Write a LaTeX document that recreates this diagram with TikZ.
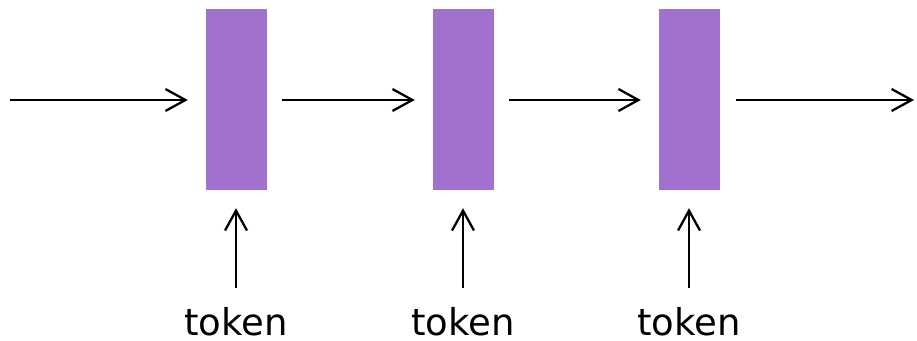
\documentclass[tikz,border=0pt]{standalone}
\usepackage{fontspec}
\setmainfont{DejaVu Sans}
\usetikzlibrary{arrows.meta}
\definecolor{cellpurple}{RGB}{160,114,205}
\begin{document}
\begin{tikzpicture}[x=1pt,y=-1pt,
  cell/.style={fill=cellpurple,draw=none,minimum width=61pt,minimum height=181pt,inner sep=0pt},
  tok/.style={font=\fontsize{37}{40}\selectfont,inner sep=0pt,text height=29pt,text depth=0pt,anchor=base},
  arr/.style={line width=2.1pt,-{Straight Barb[length=20pt,width=22pt,line width=2.3pt]}}]
\useasboundingbox (0,0) rectangle (917,340);
\node[cell] (r1) at (236.5,99.5) {};
\node[cell] (r2) at (463.5,99.5) {};
\node[cell] (r3) at (689.5,99.5) {};
\coordinate (in) at (10,100);
\coordinate (out) at (914,100);
\node[tok] (t1) at (236,335.5) {token};
\node[tok] (t2) at (463,335.5) {token};
\node[tok] (t3) at (689,335.5) {token};
\draw[arr,shorten >=18pt] (in) -- (in -| r1.west);
\draw[arr,shorten <=15pt,shorten >=18pt] (r1.east |- in) -- (r2.west |- in);
\draw[arr,shorten <=15pt,shorten >=18pt] (r2.east |- in) -- (r3.west |- in);
\draw[arr,shorten <=16pt] (r3.east |- in) -- (out);
\draw[arr,shorten <=18.5pt,shorten >=18pt] (t1.north) -- (t1.north |- r1.south);
\draw[arr,shorten <=18.5pt,shorten >=18pt] (t2.north) -- (t2.north |- r2.south);
\draw[arr,shorten <=18.5pt,shorten >=18pt] (t3.north) -- (t3.north |- r3.south);
\end{tikzpicture}
\end{document}
